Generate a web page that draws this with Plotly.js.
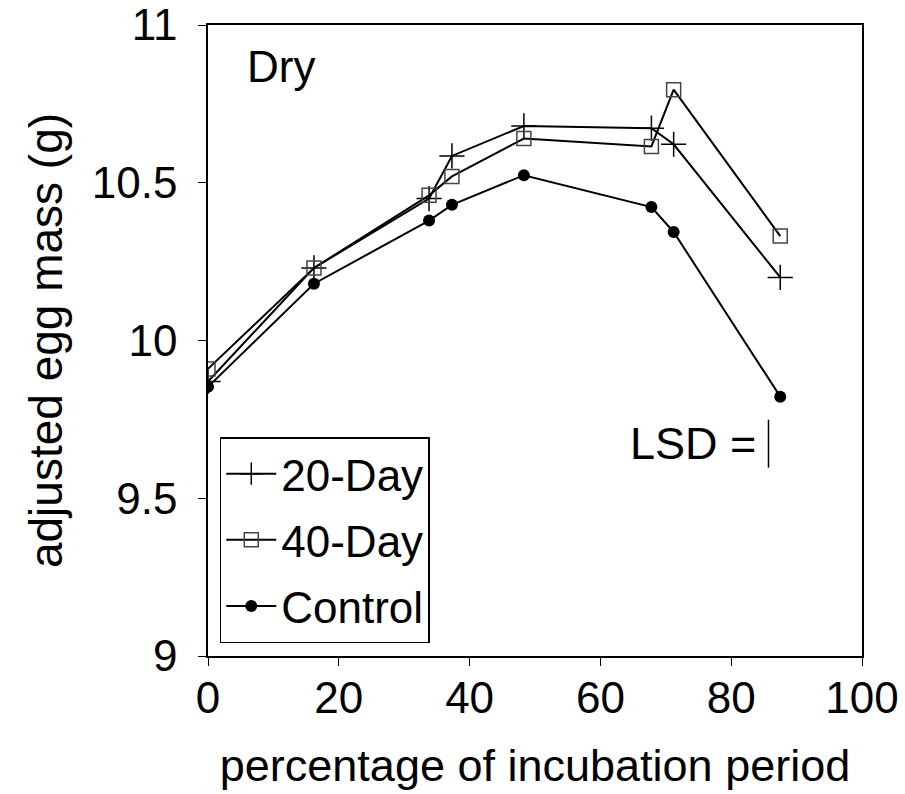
<!DOCTYPE html>
<html>
<head>
<meta charset="utf-8">
<script src="https://cdn.plot.ly/plotly-3.0.1.min.js"></script>
<style>html,body{margin:0;padding:0;background:#fff;}#chart{width:905px;height:794px;}</style>
</head>
<body>
<div id="chart"></div>
<script>
// Data
var xDay20 = [0, 16.2, 33.8, 37.3, 48.3, 67.8, 71.2, 87.5];
var yDay20 = [9.87, 10.23, 10.45, 10.585, 10.68, 10.673, 10.622, 10.2];
var xDay40 = [0, 16.2, 33.8, 37.3, 48.3, 67.8, 71.2, 87.5];
var yDay40 = [9.91, 10.23, 10.46, 10.52, 10.64, 10.615, 10.795, 10.331];
var xControl = [0, 16.2, 33.8, 37.3, 48.3, 67.8, 71.2, 87.5];
var yControl = [9.853, 10.18, 10.38, 10.43, 10.524, 10.423, 10.344, 9.822];
var seriesNames = ["20-Day", "40-Day", "Control"];
var lsdX = [85.7];
var lsdY = [9.597, 9.749];
var xTicks = [0, 20, 40, 60, 80, 100];
var yTicks = [9, 9.5, 10, 10.5, 11];
var yTickText = ["9", "9.5", "10", "10.5", "11"];

var font = "Liberation Sans, Arial, sans-serif";

var traces = [
  {x: xDay20, y: yDay20, name: seriesNames[0], legendgroup: "a", mode: "lines+markers", type: "scatter",
   line: {color: "#000", width: 2},
   marker: {symbol: "cross-thin-open", size: 18, color: "#000", line: {color: "#111", width: 1.5}}},
  {x: xDay40, y: yDay40, name: seriesNames[1], legendgroup: "b", mode: "lines+markers", type: "scatter",
   line: {color: "#000", width: 2},
   marker: {symbol: "square-open", size: 14, color: "#444", line: {color: "#444", width: 1.5}}},
  {x: xControl, y: yControl, name: seriesNames[2], legendgroup: "c", mode: "lines+markers", type: "scatter",
   line: {color: "#000", width: 2},
   marker: {symbol: "circle", size: 12, color: "#000"}}
];

var layout = {
  width: 905, height: 794,
  paper_bgcolor: "#fff", plot_bgcolor: "#fff",
  font: {family: font, color: "#000", size: 44},
  margin: {l: 208, r: 43, t: 25, b: 138, pad: 0},
  showlegend: true,
  legend: {x: 0.018, y: 0.347, xanchor: "left", yanchor: "top",
           bordercolor: "#000", borderwidth: 1.5, bgcolor: "#fff",
           itemwidth: 50, tracegroupgap: 6, traceorder: "grouped",
           font: {family: font, size: 44, color: "#000"}},
  xaxis: {range: [0, 100], tickvals: xTicks, ticktext: xTicks.map(String),
          ticks: "outside", ticklen: 8, tickwidth: 1, tickcolor: "#000",
          ticklabelstandoff: -6,
          showline: true, linecolor: "#000", linewidth: 1.8, mirror: true,
          showgrid: false, zeroline: false,
          tickfont: {family: font, size: 44, color: "#000"},
          title: {text: "percentage of incubation period", standoff: 29,
                  font: {family: font, size: 45, color: "#000"}}},
  yaxis: {range: [9, 11], tickvals: yTicks, ticktext: yTickText,
          ticks: "outside", ticklen: 8, tickwidth: 1, tickcolor: "#000",
          ticklabelstandoff: 12,
          showline: true, linecolor: "#000", linewidth: 1.8, mirror: true,
          showgrid: false, zeroline: false,
          tickfont: {family: font, size: 44, color: "#000"},
          title: {text: "adjusted egg mass (g)", standoff: 15,
                  font: {family: font, size: 46, color: "#000"}}},
  annotations: [
    {x: 0.056, y: 0.935, xref: "paper", yref: "paper", text: "Dry", showarrow: false,
     xanchor: "left", yanchor: "middle", font: {family: font, size: 44, color: "#000"}},
    {x: lsdX[0] - 1.6, y: (lsdY[0] + lsdY[1]) / 2, xref: "x", yref: "y", text: "LSD =",
     showarrow: false, xanchor: "right", yanchor: "middle",
     font: {family: font, size: 45, color: "#000"}}
  ],
  shapes: [
    {type: "line", xref: "x", yref: "y", x0: lsdX[0], x1: lsdX[0], y0: lsdY[0], y1: lsdY[1],
     line: {color: "#000", width: 1.5}}
  ]
};

Plotly.newPlot("chart", traces, layout, {displayModeBar: false, staticPlot: true});
</script>
</body>
</html>
